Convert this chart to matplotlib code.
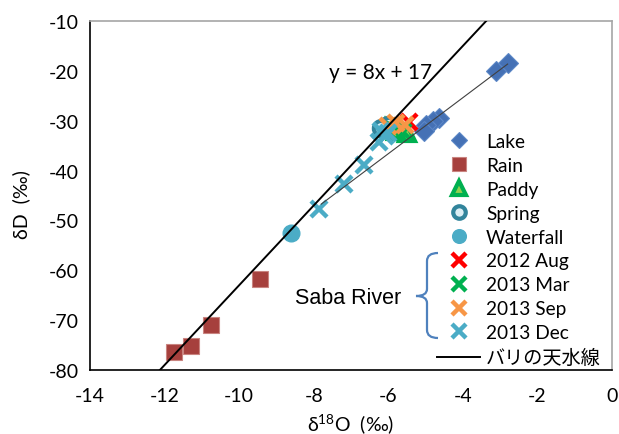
import matplotlib
matplotlib.use("Agg")
import matplotlib.pyplot as plt
import numpy as np
from matplotlib.path import Path
from matplotlib.patches import PathPatch

plt.rcParams['font.family'] = ['Lato', 'Noto Sans CJK JP', 'DejaVu Sans']
plt.rcParams['axes.unicode_minus'] = False
plt.rcParams['mathtext.fontset'] = 'custom'
plt.rcParams['mathtext.rm'] = 'Lato'
plt.rcParams['mathtext.default'] = 'regular'

# ---- data ----
lake_x = [-2.8, -3.1, -4.65, -4.8, -5.0, -5.05]
lake_y = [-18.5, -20.0, -29.5, -30.0, -30.8, -32.0]
rain_x = [-11.75, -11.3, -10.75, -9.45]
rain_y = [-76.3, -75.1, -70.9, -61.7]
paddy_x = [-5.5, -5.8, -6.1]
paddy_y = [-32.5, -32.0, -31.5]
spring_x = [-6.0, -6.2]
spring_y = [-30.8, -31.5]
waterfall_x = [-8.62]
waterfall_y = [-52.6]
aug2012_x = [-5.45]
aug2012_y = [-30.3]
mar2013_x = [-5.6, -5.85]
mar2013_y = [-32.2, -31.8]
sep2013_x = [-5.55, -5.8, -6.0]
sep2013_y = [-30.8, -30.5, -31.0]
dec2013_x = [-7.85, -7.2, -6.65, -6.25, -6.1, -6.2, -6.0]
dec2013_y = [-47.8, -42.6, -38.8, -34.2, -33.0, -32.0, -32.5]

# local meteoric water line y = 8x + 17
lmwl_slope, lmwl_intercept = 8, 17
lmwl_x = [-14, 0]
# evaporation (regression) line
evap_slope, evap_intercept = 5.62, -2.9
evap_x = [-7.8, -2.8]

xticks = [-14, -12, -10, -8, -6, -4, -2, 0]
yticks = [-80, -70, -60, -50, -40, -30, -20, -10]

W, H = 619, 435
fig = plt.figure(figsize=(W / 100, H / 100), dpi=100)
ax = fig.add_axes([90 / W, 1 - 371 / H, (612 - 90) / W, (371 - 22) / H])

ax.set_xlim(-14, 0)
ax.set_ylim(-80, -10)
ax.set_xticks(xticks)
ax.set_yticks(yticks)
ax.tick_params(axis='x', length=0, labelsize=14, pad=12)
ax.tick_params(axis='y', length=0, labelsize=14, pad=8)
for s in ['left', 'bottom']:
    ax.spines[s].set_color('black')
    ax.spines[s].set_linewidth(1.2)
for s in ['top', 'right']:
    ax.spines[s].set_color('#a6a6a6')
    ax.spines[s].set_linewidth(1.2)

ax.plot(lake_x, lake_y, ls='none', marker='D', ms=10, color='#4571b5', mec='#5b86c6', mew=0.8, label='Lake')
ax.plot(rain_x, rain_y, ls='none', marker='s', ms=12, color='#a6403d', mec='#c98480', mew=0.8, label='Rain')
ax.plot(paddy_x, paddy_y, ls='none', marker='^', ms=12, color='#92d050', mec='#00b050', mew=3, label='Paddy')
ax.plot(spring_x, spring_y, ls='none', marker='o', ms=11, color='#dbeef4', mec='#31849b', mew=3, label='Spring')
ax.plot(waterfall_x, waterfall_y, ls='none', marker='o', ms=12, color='#4bacc6', mec='#4bacc6', label='Waterfall')
ax.plot(aug2012_x, aug2012_y, ls='none', marker='x', ms=12, mew=3.2, color='#ff0000', label='2012 Aug')
ax.plot(mar2013_x, mar2013_y, ls='none', marker='x', ms=12, mew=3.2, color='#00b050', label='2013 Mar')
ax.plot(sep2013_x, sep2013_y, ls='none', marker='x', ms=12, mew=3.2, color='#f79646', label='2013 Sep')
ax.plot(dec2013_x, dec2013_y, ls='none', marker='x', ms=12, mew=3.2, color='#4bacc6', label='2013 Dec')

lx = np.array(lmwl_x, dtype=float)
ax.plot(lx, lmwl_slope * lx + lmwl_intercept, color='black', lw=1.4, zorder=5, label='バリの天水線')
ex = np.array(evap_x, dtype=float)
ax.plot(ex, evap_slope * ex + evap_intercept, color='#404040', lw=0.8, zorder=5)

leg = ax.legend(loc='upper left', bbox_to_anchor=(437 / W, 1 - 134 / H), bbox_transform=fig.transFigure,
                frameon=False, fontsize=13.8, handlelength=2.25, handletextpad=0.3,
                labelspacing=0.36, markerscale=0.82, borderpad=0, borderaxespad=0)

ax.text(-6.2, -20.3, 'y = 8x + 17', fontsize=15, ha='center', va='center')

ax.set_ylabel('δD  (‰)', fontsize=14)
ax.yaxis.set_label_coords(-0.115, 0.478)
ax.set_xlabel('δ$^{18}$O  (‰)', fontsize=14)
ax.xaxis.set_label_coords(0.5, -0.118)

# Saba River brace
def P(x, y):
    return (x / W, 1 - y / H)

verts = [P(438, 254), P(427, 254), P(427, 262), P(427, 270),
         P(427, 290), P(427, 297), P(416, 297),
         P(427, 297), P(427, 304),
         P(427, 331), P(427, 339), P(438, 339)]
codes = [Path.MOVETO, Path.CURVE3, Path.CURVE3, Path.LINETO,
         Path.LINETO, Path.CURVE3, Path.CURVE3,
         Path.CURVE3, Path.CURVE3,
         Path.LINETO, Path.CURVE3, Path.CURVE3]
fig.add_artist(PathPatch(Path(verts, codes), transform=fig.transFigure, fill=False,
                         edgecolor='#4f81bd', lw=1.6))
fig.text(*P(348, 299), 'Saba River', fontsize=15.5, family=['Liberation Sans'], ha='center', va='center')

fig.savefig('out.png', dpi=100)
